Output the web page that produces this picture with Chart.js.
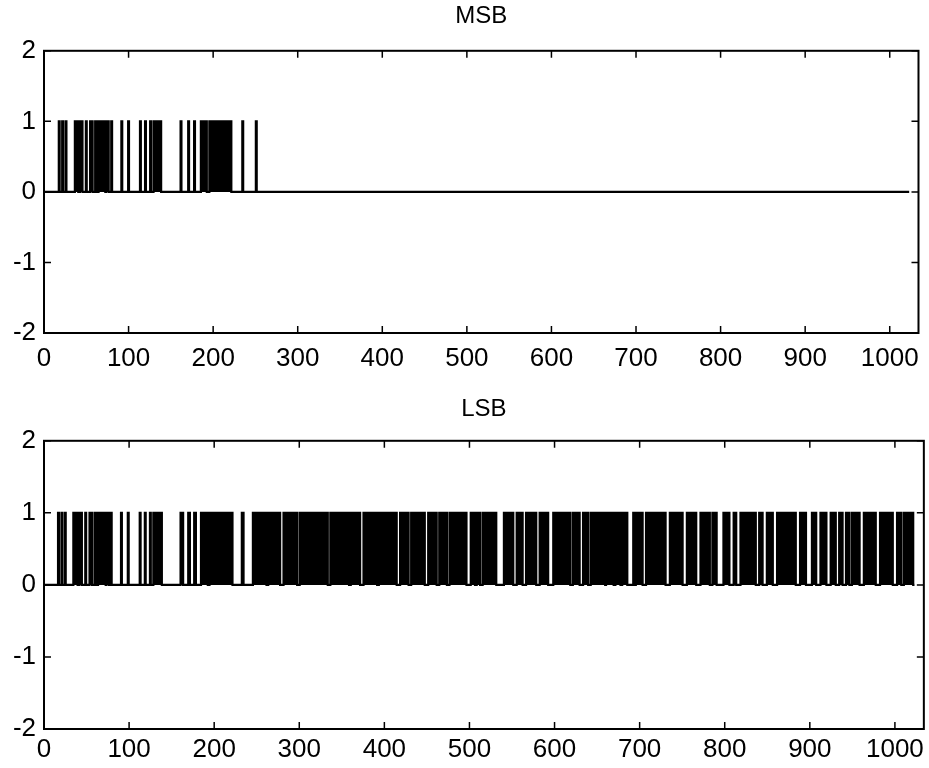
<!DOCTYPE html>
<html>
<head>
<meta charset="utf-8">
<title>MSB / LSB</title>
<script src="https://cdn.jsdelivr.net/npm/chart.js@4.4.0/dist/chart.umd.min.js"></script>
<style>
  body { margin: 0; background: #fff; }
  .panel { position: absolute; left: 0; width: 929px; }
</style>
</head>
<body>
<div class="panel" style="top:0;height:380px"><canvas id="msbChart" width="929" height="380"></canvas></div>
<div class="panel" style="top:380px;height:388px"><canvas id="lsbChart" width="929" height="388"></canvas></div>
<script>
const sampleCount = 1024;
const xMax = 1034;
const xTicks = [0, 100, 200, 300, 400, 500, 600, 700, 800, 900, 1000];
const yTicks = [-2, -1, 0, 1, 2];

// runs of 1s in the MSB plane, [first, last] sample
const msbOnes = [
  [18, 18], [22, 22], [26, 26], [37, 40], [43, 45], [50, 50], [55, 57], [61, 62],
  [65, 72], [74, 76], [80, 80], [92, 92], [100, 100], [114, 114], [120, 120],
  [126, 126], [130, 138], [162, 162], [171, 171], [178, 178], [186, 192],
  [196, 221], [235, 235], [251, 251]
];

// LSB: sparse part read the same way, then the dense part as one span with its gaps (runs of 0s)
const lsbOnesEarly = [
  [17, 17], [21, 21], [25, 25], [35, 39], [42, 44], [49, 49], [54, 56], [60, 61],
  [64, 72], [74, 76], [79, 79], [91, 91], [99, 99], [113, 113], [119, 119],
  [125, 125], [129, 138], [161, 163], [170, 171], [177, 178], [185, 192],
  [195, 221], [233, 234]
];
const lsbDenseSpan = [246, 1021];
const lsbGaps = [
  [262, 263], [278, 281], [298, 300], [334, 336], [359, 360], [372, 375], [392, 393],
  [415, 418], [429, 431], [448, 451], [462, 464], [474, 476], [497, 501], [507, 508],
  [513, 515], [532, 540], [552, 555], [563, 566], [579, 582], [593, 598], [619, 621],
  [630, 633], [640, 642], [660, 660], [670, 671], [678, 679], [686, 692], [695, 695],
  [704, 707], [731, 735], [751, 755], [767, 771], [783, 785], [791, 798], [806, 810],
  [814, 818], [837, 840], [845, 849], [857, 861], [884, 888], [896, 902], [908, 912],
  [920, 924], [931, 934], [939, 942], [947, 949], [959, 963], [978, 982], [998, 1002],
  [1008, 1010]
];

const spanMinusGaps = (span, gaps) => {
  const runs = [];
  let start = span[0];
  gaps.forEach(([a, b]) => {
    if (a > start) runs.push([start, a - 1]);
    start = b + 1;
  });
  if (start <= span[1]) runs.push([start, span[1]]);
  return runs;
};

const buildSeries = (runs) => {
  const ys = new Array(sampleCount).fill(0);
  runs.forEach(([a, b]) => {
    for (let i = a; i <= b; i++) ys[i] = 1;
  });
  return ys.map((y, i) => ({ x: i, y }));
};

const msbData = buildSeries(msbOnes);
const lsbData = buildSeries(lsbOnesEarly.concat(spanMinusGaps(lsbDenseSpan, lsbGaps)));

const fontFamily = "'Liberation Sans Narrow', 'Liberation Sans', Arial, sans-serif";

// matlab style box with tick marks pointing inwards
const matlabFrame = {
  id: "matlabFrame",
  afterDraw(chart) {
    const { ctx, chartArea: a, scales } = chart;
    const len = 7;
    ctx.save();
    ctx.strokeStyle = "#000";
    ctx.lineWidth = 2;
    ctx.strokeRect(a.left, a.top, a.right - a.left, a.bottom - a.top);
    ctx.lineWidth = 1.5;
    ctx.beginPath();
    scales.x.ticks.forEach((t) => {
      const px = scales.x.getPixelForValue(t.value);
      ctx.moveTo(px, a.bottom); ctx.lineTo(px, a.bottom - len);
      ctx.moveTo(px, a.top); ctx.lineTo(px, a.top + len);
    });
    scales.y.ticks.forEach((t) => {
      const py = scales.y.getPixelForValue(t.value);
      ctx.moveTo(a.left, py); ctx.lineTo(a.left + len, py);
      ctx.moveTo(a.right, py); ctx.lineTo(a.right - len, py);
    });
    ctx.stroke();
    ctx.restore();
  },
};

const renderChart = (canvasId, data, title, opts) => {
  new Chart(document.getElementById(canvasId), {
    type: "line",
    data: {
      datasets: [
        {
          data: data,
          borderColor: "#000",
          backgroundColor: "#000",
          borderWidth: 2.2,
          fill: "origin",
          stepped: "middle",
          pointRadius: 0,
        },
      ],
    },
    options: {
      responsive: false,
      animation: false,
      events: [],
      layout: { padding: { top: 0, right: 5, bottom: 0, left: 0 } },
      plugins: {
        legend: { display: false },
        tooltip: { enabled: false },
        title: {
          display: true,
          text: title,
          color: "#000",
          fullSize: false,
          font: { family: fontFamily, size: 24, weight: "normal" },
          padding: opts.titlePadding,
        },
      },
      scales: {
        x: {
          type: "linear",
          min: 0,
          max: xMax,
          grid: { display: false, drawTicks: false },
          border: { display: false },
          afterBuildTicks: (s) => { s.ticks = xTicks.map((v) => ({ value: v })); },
          afterFit: (s) => { s.height = opts.xHeight; },
          ticks: {
            color: "#000",
            font: { family: fontFamily, size: 26 },
            padding: opts.xPad,
            maxRotation: 0,
            autoSkip: false,
            callback: (v) => String(v),
          },
        },
        y: {
          min: -2,
          max: 2,
          grid: { display: false, drawTicks: false },
          border: { display: false },
          afterBuildTicks: (s) => { s.ticks = yTicks.map((v) => ({ value: v })); },
          afterFit: (s) => { s.width = 44; },
          ticks: {
            color: "#000",
            font: { family: fontFamily, size: 26 },
            padding: 8,
            callback: (v) => String(v),
          },
        },
      },
    },
    plugins: [matlabFrame],
  });
};

renderChart("msbChart", msbData, "MSB", { titlePadding: { top: 2, bottom: 20 }, xHeight: 47, xPad: 10 });
renderChart("lsbChart", lsbData, "LSB", { titlePadding: { top: 15, bottom: 17 }, xHeight: 39, xPad: 5 });
</script>
</body>
</html>
